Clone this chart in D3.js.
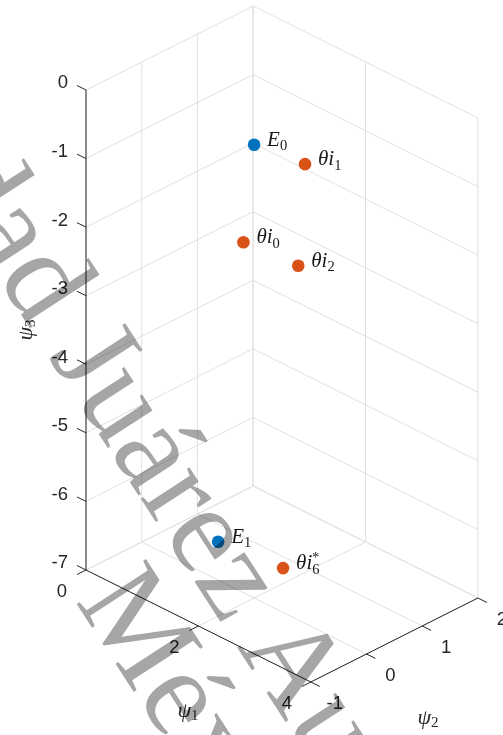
<!DOCTYPE html>
<html>
<head>
<meta charset="utf-8">
<script src="https://cdn.jsdelivr.net/npm/d3@7/dist/d3.min.js"></script>
<style>
  html, body { margin: 0; padding: 0; background: #fff; }
  svg { display: block; }
</style>
</head>
<body>
<svg id="chart" width="503" height="735"></svg>
<script>
// ---- data ----
const pointNames = ["E0", "θi1", "θi0", "θi2", "E1", "θi6*"];
const psi1Values = [2.00, 2.41, 1.81, 2.29, 1.36, 2.02];
const psi2Values = [0.00, 0.50, 0.00, 0.50, 0.00, 0.50];
const psi3Values = [-0.39, -0.71, -1.89, -2.24, -6.44, -6.76];
const pointGroups = ["E", "theta", "theta", "theta", "E", "theta"];

const psi1Ticks = [0, 2, 4];
const psi2Ticks = [-1, 0, 1, 2];
const psi3Ticks = [0, -1, -2, -3, -4, -5, -6, -7];

// ---- 3-D box (orthographic view) ----
const svg = d3.select("#chart");
const origin = [86, 570];            // screen position of (psi1=0, psi2=-1, psi3=-7)
const ex = [224.8, 112];             // full psi1 edge
const ey = [167.1, -84];             // full psi2 edge
const ez = [0, -480];                // full psi3 edge

const xS = d3.scaleLinear().domain([0, 4]).range([0, 1]);
const yS = d3.scaleLinear().domain([-1, 2]).range([0, 1]);
const zS = d3.scaleLinear().domain([-7, 0]).range([0, 1]);

function proj(x, y, z) {
  const a = xS(x), b = yS(y), c = zS(z);
  return [origin[0] + a * ex[0] + b * ey[0] + c * ez[0],
          origin[1] + a * ex[1] + b * ey[1] + c * ez[1]];
}
const line = d3.line();

const gridColor = "#e0e0e0";
const axisColor = "#262626";
const grid = svg.append("g").attr("fill", "none").attr("stroke", gridColor).attr("stroke-width", 1);

// back wall psi1 = 0
psi2Ticks.forEach(v => grid.append("path").attr("d", line([proj(0, v, -7), proj(0, v, 0)])));
psi3Ticks.forEach(v => grid.append("path").attr("d", line([proj(0, -1, v), proj(0, 2, v)])));
// back wall psi2 = 2
psi1Ticks.forEach(v => grid.append("path").attr("d", line([proj(v, 2, -7), proj(v, 2, 0)])));
psi3Ticks.forEach(v => grid.append("path").attr("d", line([proj(0, 2, v), proj(4, 2, v)])));
// floor psi3 = -7
psi1Ticks.forEach(v => grid.append("path").attr("d", line([proj(v, -1, -7), proj(v, 2, -7)])));
psi2Ticks.forEach(v => grid.append("path").attr("d", line([proj(0, v, -7), proj(4, v, -7)])));

// axis lines
const axes = svg.append("g").attr("fill", "none").attr("stroke", axisColor).attr("stroke-width", 1);
axes.append("path").attr("d", line([proj(0, -1, -7), proj(0, -1, 0)]));
axes.append("path").attr("d", line([proj(0, -1, -7), proj(4, -1, -7)]));
axes.append("path").attr("d", line([proj(4, -1, -7), proj(4, 2, -7)]));

// tick marks (length along the unit directions of the other axes)
const tickLen = 10;
function unit(v) { const l = Math.hypot(v[0], v[1]); return [v[0] / l, v[1] / l]; }
const ux = unit(ex), uy = unit(ey);
const tickFont = "'Liberation Sans', Arial, Helvetica, sans-serif";
const ticksG = svg.append("g");

psi3Ticks.forEach(v => {
  const p = proj(0, -1, v);
  const q = [p[0] - ux[0] * tickLen, p[1] - ux[1] * tickLen];
  ticksG.append("path").attr("d", line([p, q])).attr("stroke", axisColor).attr("fill", "none");
  ticksG.append("text").attr("x", q[0] - 9).attr("y", q[1] - 2)
    .attr("text-anchor", "end").attr("dominant-baseline", "middle")
    .attr("font-family", tickFont).attr("font-size", 18.5).attr("fill", axisColor).text(v);
});
psi1Ticks.forEach(v => {
  const p = proj(v, -1, -7);
  const q = [p[0] - uy[0] * tickLen, p[1] - uy[1] * tickLen];
  ticksG.append("path").attr("d", line([p, q])).attr("stroke", axisColor).attr("fill", "none");
  ticksG.append("text").attr("x", p[0] - 24).attr("y", p[1] + 22)
    .attr("text-anchor", "middle").attr("dominant-baseline", "middle")
    .attr("font-family", tickFont).attr("font-size", 18.5).attr("fill", axisColor).text(v);
});
psi2Ticks.forEach(v => {
  const p = proj(4, v, -7);
  const q = [p[0] + ux[0] * tickLen, p[1] + ux[1] * tickLen];
  ticksG.append("path").attr("d", line([p, q])).attr("stroke", axisColor).attr("fill", "none");
  ticksG.append("text").attr("x", p[0] + 24).attr("y", p[1] + 22)
    .attr("text-anchor", "middle").attr("dominant-baseline", "middle")
    .attr("font-family", tickFont).attr("font-size", 18.5).attr("fill", axisColor).text(v);
});

// axis titles
const serif = "'Liberation Serif', 'Times New Roman', serif";
function psiLabel(g, sub) {
  const t = g.append("text").attr("font-family", serif).attr("font-size", 22).attr("fill", axisColor)
    .attr("text-anchor", "middle").attr("dominant-baseline", "middle");
  t.append("tspan").attr("font-style", "italic").text("ψ");
  t.append("tspan").attr("font-size", 15).attr("dy", 5).text(sub);
  return t;
}
psiLabel(svg.append("g").attr("transform", "translate(188,712)"), "1");
psiLabel(svg.append("g").attr("transform", "translate(428,719)"), "2");
psiLabel(svg.append("g").attr("transform", "translate(27,330) rotate(-90)"), "3");

// ---- points ----
const colors = { E: "#0072BD", theta: "#D95319" };
const pts = pointNames.map((n, i) => ({
  name: n, group: pointGroups[i],
  p: proj(psi1Values[i], psi2Values[i], psi3Values[i])
}));

svg.append("g").selectAll("circle").data(pts).join("circle")
  .attr("cx", d => d.p[0]).attr("cy", d => d.p[1]).attr("r", 6.3)
  .attr("fill", d => colors[d.group]);

// point labels: italic symbol, roman subscript (and superscript star)
const labG = svg.append("g").attr("font-family", serif).attr("fill", "#1a1a1a");
pts.forEach(d => {
  const t = labG.append("text").attr("x", d.p[0] + 13).attr("y", d.p[1] + 1).attr("font-size", 21);
  const star = d.name.endsWith("*");
  const base = star ? d.name.slice(0, -1) : d.name;
  const sub = base.slice(-1);
  const main = base.slice(0, -1);
  t.append("tspan").attr("font-style", "italic").text(main);
  t.append("tspan").attr("font-size", 14.5).attr("dy", 4.5).text(sub);
  if (star) t.append("tspan").attr("font-size", 14.5).attr("dx", -7.5).attr("dy", -12).text("*");
});

// ---- repository watermark ----
const wm = svg.append("g").attr("font-family", serif).attr("font-size", 126)
  .attr("fill", "#a6a6a6").style("mix-blend-mode", "multiply");
const wm1 = wm.append("g").attr("transform", "translate(48,356) rotate(57)");
const line1 = "Universidad Juárez Autónoma de Tabasco";
const t1 = wm1.append("text").attr("x", 0).attr("y", 0).text(line1);
const jOffset = t1.node().getSubStringLength(0, line1.indexOf("J"));
t1.attr("x", -jOffset);
wm1.append("text").attr("x", 220).attr("y", 111).text("México");
</script>
</body>
</html>
